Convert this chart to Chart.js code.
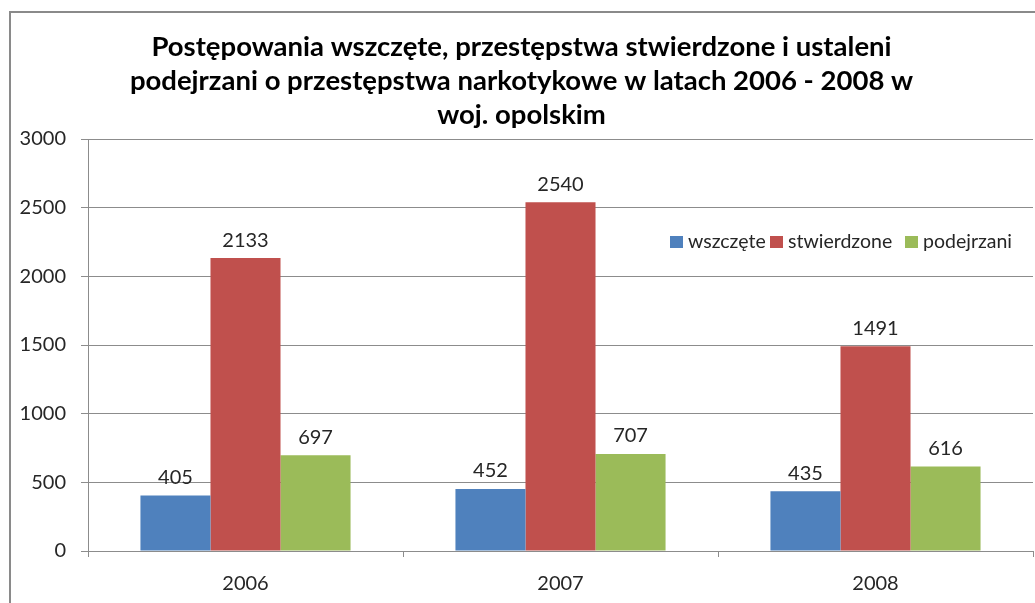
<!DOCTYPE html>
<html>
<head>
<meta charset="utf-8">
<script src="https://cdn.jsdelivr.net/npm/chart.js@4.4.1/dist/chart.umd.min.js"></script>
<style>
html,body{margin:0;padding:0;background:#fff;}
#wrap{position:relative;width:1035px;height:603px;}
</style>
</head>
<body>
<div id="wrap"><canvas id="c" width="1035" height="603"></canvas></div>
<script>
const categories = ['2006', '2007', '2008'];
const seriesNames = ['wszczęte', 'stwierdzone', 'podejrzani'];
const wszczete = [405, 452, 435];
const stwierdzone = [2133, 2540, 1491];
const podejrzani = [697, 707, 616];
const yTicks = [0, 500, 1000, 1500, 2000, 2500, 3000];
const titleLines = ['Postępowania wszczęte, przestępstwa stwierdzone i ustaleni', 'podejrzani o przestępstwa narkotykowe w latach 2006 - 2008 w', 'woj. opolskim'];

const colors = ['#4F81BD', '#C0504D', '#9BBB59'];
const FONT = 'Lato, "Open Sans", sans-serif';
const TXT = '#262626';
const GRID = '#8c8c8c';

const borderPlugin = {
  id: 'frame',
  beforeDraw(chart) {
    const ctx = chart.ctx;
    ctx.save();
    ctx.fillStyle = '#fff';
    ctx.fillRect(0, 0, chart.width, chart.height);
    ctx.strokeStyle = '#8a8a8a';
    ctx.lineWidth = 2;
    ctx.strokeRect(10, 12, 1100, 700);
    ctx.restore();
  }
};

const valueLabels = {
  id: 'valueLabels',
  afterDatasetsDraw(chart) {
    const ctx = chart.ctx;
    ctx.save();
    ctx.font = '20px ' + FONT;
    ctx.fillStyle = TXT;
    ctx.textAlign = 'center';
    ctx.textBaseline = 'middle';
    chart.data.datasets.forEach((ds, i) => {
      chart.getDatasetMeta(i).data.forEach((bar, j) => {
        ctx.fillText(String(ds.data[j]), bar.x, bar.y - 18);
      });
    });
    ctx.restore();
  }
};

const innerLegend = {
  id: 'innerLegend',
  afterDraw(chart) {
    const ctx = chart.ctx;
    ctx.save();
    ctx.font = '19.5px ' + FONT;
    ctx.textBaseline = 'middle';
    const starts = [670, 770, 905];
    const y = 242;
    chart.data.datasets.forEach((ds, i) => {
      const x = starts[i];
      ctx.fillStyle = ds.backgroundColor;
      ctx.fillRect(x, y - 6, 13, 12);
      ctx.fillStyle = TXT;
      ctx.fillText(ds.label, x + 18, y);
    });
    ctx.restore();
  }
};

const datasets = [wszczete, stwierdzone, podejrzani].map((d, i) => ({
  label: seriesNames[i],
  data: d,
  backgroundColor: colors[i],
  borderWidth: 0,
  categoryPercentage: 0.667,
  barPercentage: 1.0
}));

new Chart(document.getElementById('c'), {
  type: 'bar',
  data: { labels: categories, datasets },
  plugins: [borderPlugin, valueLabels, innerLegend],
  options: {
    responsive: false,
    animation: false,
    devicePixelRatio: 1,
    layout: { padding: { left: 10, right: 2, top: 30, bottom: 0 } },
    plugins: {
      legend: { display: false },
      tooltip: { enabled: false },
      title: {
        display: true,
        text: titleLines,
        color: '#000',
        font: { family: FONT, size: 27.5, weight: 'bold', lineHeight: '34px' },
        padding: { top: 0, bottom: 7 }
      }
    },
    scales: {
      x: {
        grid: { display: true, drawOnChartArea: false, drawTicks: true, tickLength: 6, color: GRID, offset: true },
        border: { display: true, color: GRID, width: 1 },
        ticks: { color: TXT, font: { family: FONT, size: 20 }, padding: 15 },
        afterFit(axis) { axis.height = 52; }
      },
      y: {
        min: 0, max: 3000,
        afterBuildTicks(axis) { axis.ticks = yTicks.map(v => ({ value: v })); },
        grid: { color: GRID, drawTicks: true, tickLength: 7 },
        border: { display: true, color: GRID, width: 1 },
        ticks: { color: TXT, font: { family: FONT, size: 20 }, padding: 15, callback: (v) => String(v) },
        afterFit(axis) { axis.width = 78; }
      }
    }
  }
});
</script>
</body>
</html>
